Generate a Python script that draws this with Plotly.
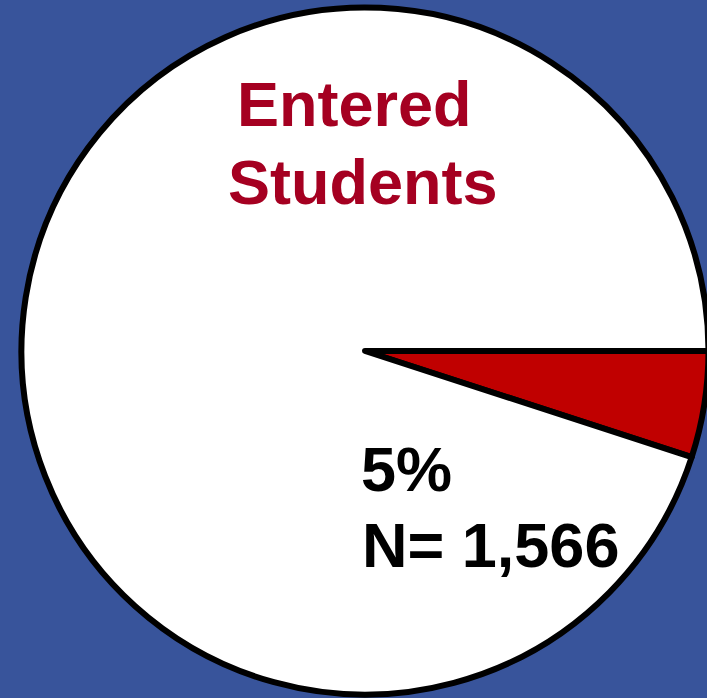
import plotly.graph_objects as go

# ---- data ----
slice_labels = ["Entered Students", "Other"]
slice_values = [5, 95]            # percent
slice_colors = ["#c00000", "#ffffff"]
entered_n = 1566
title_lines = ["Entered", "Students"]

# figure slightly larger than the window so the pie is cropped on the right/bottom
W, H = 720, 710

def px(xpx):
    return xpx / W

def py(ypx):
    return 1 - ypx / H

fig = go.Figure()
fig.add_trace(go.Pie(
    labels=slice_labels,
    values=slice_values,
    sort=False,
    direction="clockwise",
    rotation=90,
    textinfo="none",
    hoverinfo="label+percent",
    marker=dict(colors=slice_colors, line=dict(color="#000000", width=6)),
    domain=dict(x=[px(21.5), px(708.5)], y=[py(694.5), py(7.5)]),
    showlegend=False,
))

title_font = dict(family="Liberation Sans, Arial, sans-serif", size=63, color="#a50021")
label_font = dict(family="Liberation Sans, Arial, sans-serif", size=63, color="#000000")

fig.add_annotation(text="<b>%s</b>" % title_lines[0], x=px(354.5), y=py(103.5),
                   xref="paper", yref="paper", xanchor="center", yanchor="middle",
                   showarrow=False, font=title_font)
fig.add_annotation(text="<b>%s</b>" % title_lines[1], x=px(362.5), y=py(182),
                   xref="paper", yref="paper", xanchor="center", yanchor="middle",
                   showarrow=False, font=title_font)
fig.add_annotation(text="<b>%d%%</b>" % slice_values[0], x=px(359), y=py(469),
                   xref="paper", yref="paper", xanchor="left", yanchor="middle",
                   showarrow=False, font=label_font)
fig.add_annotation(text="<b>N= {:,}</b>".format(entered_n), x=px(360), y=py(545),
                   xref="paper", yref="paper", xanchor="left", yanchor="middle",
                   showarrow=False, font=label_font)

fig.update_layout(
    width=W, height=H,
    margin=dict(l=0, r=0, t=0, b=0, pad=0),
    paper_bgcolor="#38549b",
    plot_bgcolor="#38549b",
)

fig.write_html("out.html", config={"displayModeBar": False},
               post_script="document.body.style.margin='0';document.body.style.overflow='hidden';")
